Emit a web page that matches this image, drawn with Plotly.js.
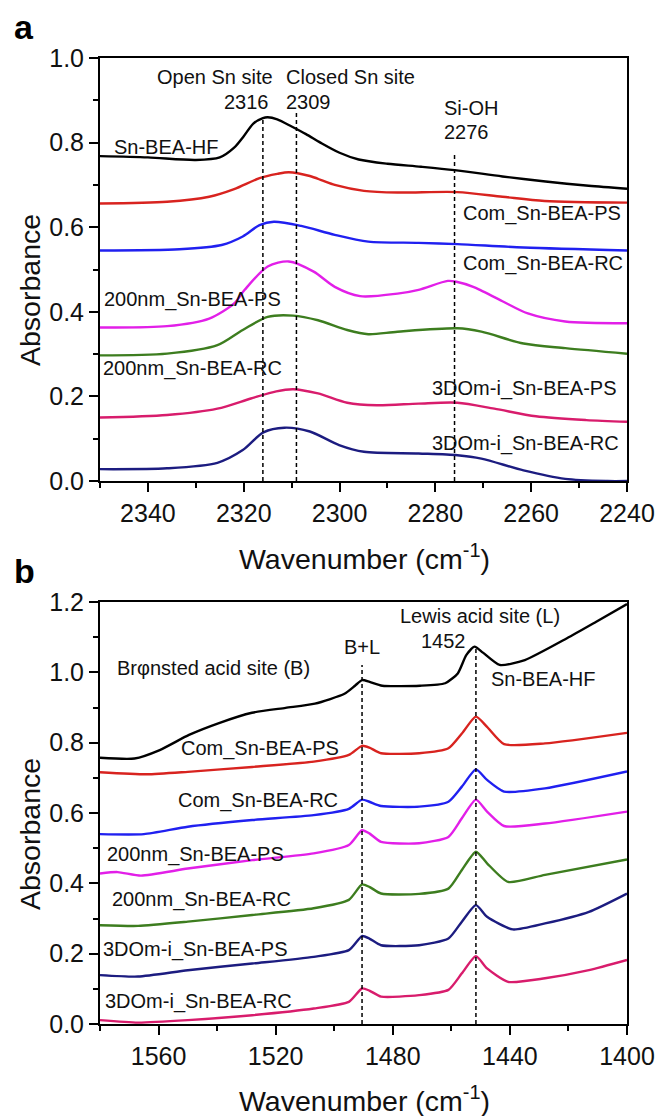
<!DOCTYPE html>
<html>
<head>
<meta charset="utf-8">
<script src="https://cdn.plot.ly/plotly-3.0.1.min.js"></script>
<style>
html,body{margin:0;padding:0;background:#fff;}
#chart{width:657px;height:1116px;}
</style>
</head>
<body>
<div id="chart"></div>
<script>
// ---------- Panel a data (wavenumber, absorbance) ----------
const seriesNames = ["Sn-BEA-HF","Com_Sn-BEA-PS","Com_Sn-BEA-RC","200nm_Sn-BEA-PS","200nm_Sn-BEA-RC","3DOm-i_Sn-BEA-PS","3DOm-i_Sn-BEA-RC"];
const seriesColorsA = ["#000000","#d8231f","#2020f0","#e21fe8","#3d7d1f","#d81c6c","#1c1c80"];
const seriesColorsB = ["#000000","#d8231f","#2020f0","#e21fe8","#3d7d1f","#1c1c80","#d81c6c"];

const aHF_x = [2350,2340,2330,2325,2322,2320,2318,2316,2315,2313,2310,2307,2304,2300,2296,2290,2283,2276,2266,2257,2248,2240];
const aHF_y = [0.768,0.765,0.759,0.765,0.788,0.815,0.845,0.858,0.860,0.855,0.838,0.820,0.800,0.776,0.760,0.750,0.743,0.735,0.720,0.708,0.698,0.691];

const aComPS_x = [2350,2336,2327.2,2322,2316.7,2313,2310.6,2306.2,2303.5,2301,2294.9,2287.9,2275.4,2266,2257.2,2240];
const aComPS_y = [0.656,0.660,0.672,0.690,0.716,0.726,0.730,0.721,0.710,0.700,0.686,0.682,0.683,0.672,0.662,0.658];

const aComRC_x = [2350,2333.4,2324.6,2320.2,2316.7,2313.7,2308,2301,2294,2283.5,2275.4,2261.6,2240];
const aComRC_y = [0.545,0.548,0.558,0.578,0.605,0.613,0.603,0.582,0.566,0.563,0.560,0.552,0.545];

const a200PS_x = [2350,2336,2327.2,2322,2319.8,2315,2310.6,2305.4,2301,2295.7,2287.9,2283.5,2277.4,2275.6,2272.1,2270.4,2266,2260.7,2252.9,2240];
const a200PS_y = [0.363,0.366,0.384,0.420,0.452,0.507,0.519,0.495,0.459,0.437,0.443,0.452,0.473,0.471,0.459,0.450,0.425,0.396,0.377,0.373];

const a200RC_x = [2350,2336,2325.5,2320.2,2315,2309.7,2304.5,2298.4,2294,2287.9,2275.4,2270.4,2261.6,2252.9,2240];
const a200RC_y = [0.297,0.301,0.321,0.357,0.388,0.391,0.380,0.357,0.347,0.353,0.361,0.353,0.325,0.314,0.301];

const a3DPS_x = [2350,2336,2325.5,2318.5,2313.2,2309.7,2304.5,2298.4,2292.2,2283.5,2275.4,2267.7,2259,2248.5,2240];
const a3DPS_y = [0.150,0.156,0.171,0.195,0.212,0.217,0.207,0.185,0.179,0.183,0.185,0.171,0.153,0.144,0.140];

const a3DRC_x = [2350,2336,2325.5,2320.2,2315.9,2311.5,2306.2,2300.1,2294.9,2283.5,2275.4,2270.4,2261.6,2252.9,2244.1,2240];
const a3DRC_y = [0.028,0.030,0.043,0.073,0.115,0.126,0.117,0.085,0.069,0.065,0.061,0.053,0.025,0.005,0.0,0.0];

// ---------- Panel b data ----------
const bHF_x = [1580,1568.2,1559.6,1549.6,1539.6,1528.1,1516.6,1506.6,1496.5,1492.9,1490.5,1487.9,1483.6,1470.7,1462.1,1457.8,1454.9,1452.1,1449.2,1443.5,1434.9,1420.5,1410.5,1400];
const bHF_y = [0.757,0.755,0.779,0.822,0.855,0.885,0.899,0.911,0.939,0.962,0.978,0.973,0.962,0.962,0.969,0.997,1.049,1.073,1.056,1.021,1.035,1.097,1.144,1.194];

const bComPS_x = [1580,1564,1550,1528,1507,1495,1490.5,1488,1484,1471,1461,1456.4,1451.6,1447.8,1442,1428,1400];
const bComPS_y = [0.716,0.710,0.717,0.731,0.746,0.765,0.791,0.786,0.770,0.770,0.784,0.826,0.874,0.845,0.796,0.798,0.828];

const bComRC_x = [1580,1565,1550,1528,1507,1495,1490.5,1488,1484,1471,1461,1456.4,1451.6,1447.8,1442,1428,1400];
const bComRC_y = [0.540,0.540,0.561,0.580,0.594,0.612,0.638,0.632,0.620,0.618,0.632,0.675,0.724,0.694,0.661,0.670,0.718];

const b200PS_x = [1580,1574,1566,1550,1528,1507,1495,1490.5,1488,1484,1471,1461,1456.4,1451.6,1447.8,1442,1428,1400];
const b200PS_y = [0.428,0.432,0.422,0.442,0.466,0.485,0.509,0.551,0.542,0.518,0.514,0.532,0.585,0.638,0.604,0.563,0.570,0.604];

const b200RC_x = [1580,1567,1550,1528,1507,1495,1490.5,1488,1484,1471,1461,1456.4,1451.6,1447.8,1440.6,1428,1400];
const b200RC_y = [0.281,0.279,0.291,0.310,0.329,0.353,0.397,0.390,0.371,0.370,0.385,0.438,0.490,0.457,0.404,0.424,0.468];

const b3DPS_x = [1580,1567,1550,1528,1507,1495,1490.5,1488,1484,1471,1461,1456.4,1451.6,1447.8,1439,1428,1413,1400];
const b3DPS_y = [0.139,0.135,0.153,0.172,0.191,0.210,0.250,0.243,0.224,0.224,0.243,0.291,0.338,0.305,0.269,0.286,0.319,0.371];

const b3DRC_x = [1580,1567,1550,1528,1507,1495,1490.5,1488,1484,1471,1461,1456.4,1451.6,1447.8,1440.6,1428,1413,1400];
const b3DRC_y = [0.011,0.004,0.011,0.025,0.044,0.063,0.101,0.095,0.078,0.082,0.097,0.144,0.193,0.158,0.120,0.130,0.153,0.182];

// reference lines (wavenumber, top value)
const aRefX = [2316, 2309, 2276];
const aRefTop = [0.858, 0.870, 0.775];
const bRefX = [1490.5, 1451.6];
const bRefTop = [1.021, 1.069];

// ---------- geometry helpers (pixel -> paper) ----------
const L = 100, R = 30, T = 58, B = 92, W = 657, H = 1116;
const PW = W - L - R, PH = H - T - B;
const px = x => (x - L) / PW;
const py = y => (H - B - y) / PH;

const FONT = "Arial, 'Liberation Sans', sans-serif";

const aX = [aHF_x,aComPS_x,aComRC_x,a200PS_x,a200RC_x,a3DPS_x,a3DRC_x];
const aY = [aHF_y,aComPS_y,aComRC_y,a200PS_y,a200RC_y,a3DPS_y,a3DRC_y];
const bX = [bHF_x,bComPS_x,bComRC_x,b200PS_x,b200RC_x,b3DPS_x,b3DRC_x];
const bY = [bHF_y,bComPS_y,bComRC_y,b200PS_y,b200RC_y,b3DPS_y,b3DRC_y];

const traces = [];
aX.forEach((xs, i) => traces.push({
  x: xs, y: aY[i], type: 'scatter', mode: 'lines', name: seriesNames[i],
  line: {color: seriesColorsA[i], width: 2.4, shape: 'spline', smoothing: 0.8},
  xaxis: 'x', yaxis: 'y', hoverinfo: 'skip'
}));
bX.forEach((xs, i) => traces.push({
  x: xs, y: bY[i], type: 'scatter', mode: 'lines', name: seriesNames[i],
  line: {color: seriesColorsB[i], width: 2.4, shape: 'spline', smoothing: 0.6},
  xaxis: 'x2', yaxis: 'y2', hoverinfo: 'skip'
}));

const shapes = [];
aRefX.forEach((v, i) => shapes.push({type:'line', xref:'x', yref:'y', x0:v, x1:v, y0:0, y1:aRefTop[i], line:{color:'#000', width:1.5, dash:'4px,3px'}}));
bRefX.forEach((v, i) => shapes.push({type:'line', xref:'x2', yref:'y2', x0:v, x1:v, y0:0, y1:bRefTop[i], line:{color:'#000', width:1.5, dash:'4px,3px'}}));

function lab(text, x, y, size, opts) {
  return Object.assign({text: text, xref:'paper', yref:'paper', x: px(x), y: py(y),
    xanchor:'left', yanchor:'middle', showarrow:false,
    font:{family: FONT, size: size, color:'#111'}}, opts || {});
}
const LS = 20;
const annotations = [
  // panel a
  lab("Sn-BEA-HF", 112, 147, LS),
  lab("Open Sn site", 155, 77, LS),
  lab("Closed Sn site", 284, 77, LS),
  lab("2316", 222, 102, LS),
  lab("2309", 284, 102, LS),
  lab("Si-OH", 442, 108, LS),
  lab("2276", 442, 132, LS),
  lab("Com_Sn-BEA-PS", 461, 214, LS),
  lab("Com_Sn-BEA-RC", 461, 263, LS),
  lab("200nm_Sn-BEA-PS", 102, 300, LS),
  lab("200nm_Sn-BEA-RC", 101, 368, LS),
  lab("3DOm-i_Sn-BEA-PS", 430, 388, LS),
  lab("3DOm-i_Sn-BEA-RC", 430, 443, LS),
  // panel b
  lab("Brφnsted acid site (B)", 115, 668, LS),
  lab("B+L", 342, 647, LS),
  lab("Lewis acid site (L)", 398, 616, LS),
  lab("1452", 419, 641, LS),
  lab("Sn-BEA-HF", 489, 679, LS),
  lab("Com_Sn-BEA-PS", 179, 748, LS),
  lab("Com_Sn-BEA-RC", 176, 800, LS),
  lab("200nm_Sn-BEA-PS", 105, 854, LS),
  lab("200nm_Sn-BEA-RC", 110, 899, LS),
  lab("3DOm-i_Sn-BEA-PS", 101, 949, LS),
  lab("3DOm-i_Sn-BEA-RC", 103, 1001, LS),
  // axis titles
  lab("Wavenumber (cm<sup>-1</sup>)", 364, 557, 28.5, {xanchor:'center'}),
  lab("Wavenumber (cm<sup>-1</sup>)", 364, 1099, 28.5, {xanchor:'center'}),
  lab("Absorbance", 30, 290, 28.5, {xanchor:'center', textangle:-90}),
  lab("Absorbance", 30, 834, 28.5, {xanchor:'center', textangle:-90}),
  // panel letters
  lab("<b>a</b>", 24, 27, 34, {xanchor:'center', font:{family:FONT, size:34, color:'#000'}}),
  lab("<b>b</b>", 24, 571, 34, {xanchor:'center', font:{family:FONT, size:34, color:'#000'}})
];

const axisCommon = {
  showgrid:false, zeroline:false, showline:true, linecolor:'#000', linewidth:2,
  mirror:true, ticks:'outside', ticklen:9, tickwidth:2, tickcolor:'#000',
  tickfont:{family:FONT, size:25, color:'#111'}
};

const layout = {
  width: W, height: H, margin:{l:L, r:R, t:T, b:B},
  paper_bgcolor:'#fff', plot_bgcolor:'#fff', showlegend:false,
  font:{family:FONT},
  xaxis: Object.assign({}, axisCommon, {domain:[0,1], anchor:'y', range:[2350,2240],
    tick0:2340, dtick:20, minor:{ticks:'outside', ticklen:5, tickwidth:2, tickcolor:'#000', dtick:10, tick0:2340, showgrid:false}}),
  yaxis: Object.assign({}, axisCommon, {domain:[py(481), 1], anchor:'x', range:[0,1],
    dtick:0.2, tickformat:'.1f', minor:{ticks:'outside', ticklen:5, tickwidth:2, tickcolor:'#000', dtick:0.1, showgrid:false}}),
  xaxis2: Object.assign({}, axisCommon, {domain:[0,1], anchor:'y2', range:[1580,1400],
    tick0:1560, dtick:40, minor:{ticks:'outside', ticklen:5, tickwidth:2, tickcolor:'#000', dtick:20, tick0:1560, showgrid:false}}),
  yaxis2: Object.assign({}, axisCommon, {domain:[0, py(602)], anchor:'x2', range:[0,1.2],
    dtick:0.2, tickformat:'.1f', minor:{ticks:'outside', ticklen:5, tickwidth:2, tickcolor:'#000', dtick:0.1, showgrid:false}}),
  shapes: shapes,
  annotations: annotations
};

Plotly.newPlot('chart', traces, layout, {staticPlot:true, displayModeBar:false});
</script>
</body>
</html>
